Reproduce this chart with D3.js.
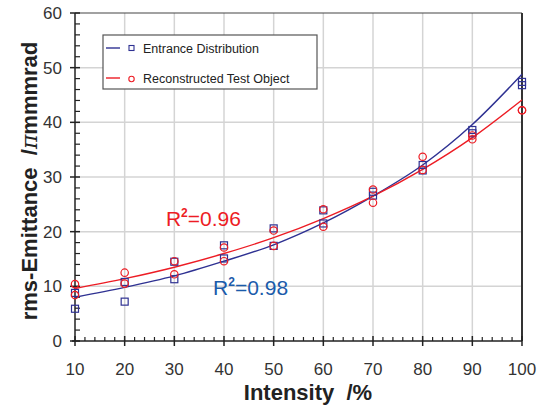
<!DOCTYPE html>
<html lang="en">
<head>
  <meta charset="UTF-8">
  <title>rms-Emittance vs Intensity</title>
  <script src="https://d3js.org/d3.v7.min.js"></script>
  <style>
    body { margin: 0; background: #fff; }
    svg { display: block; font-family: "Liberation Sans", Arial, sans-serif; }
    .tick-label { font-size: 17px; fill: #333; }
    .axis-title { font-size: 22px; font-weight: bold; fill: #222; white-space: pre; }
    .legend-text { font-size: 12.5px; fill: #222; }
  </style>
</head>
<body>
<svg width="538" height="407"></svg>
<script>
  // values
  const intensity = [10, 20, 30, 40, 50, 60, 70, 80, 90, 100];
  const entranceHigh = [8.8, 10.8, 14.5, 17.5, 20.6, 23.9, 27.3, 32.2, 38.6, 47.4];
  const entranceLow  = [5.9, 7.2, 11.3, 15.1, 17.4, 21.5, 26.6, 31.2, 38.0, 46.8];
  const reconHigh    = [10.4, 12.5, 14.6, 17.1, 20.2, 24.1, 27.7, 33.7, 37.6, 42.2];
  const reconLow     = [8.4, 10.5, 12.2, 14.6, 17.4, 20.9, 25.3, 31.3, 36.9, 42.2];
  // trend lines
  const entranceFit  = [8.0, 9.8, 11.9, 14.6, 17.6, 21.6, 26.5, 32.2, 39.6, 48.8];
  const reconFit     = [9.6, 11.4, 13.5, 16.0, 18.9, 22.4, 26.5, 31.4, 37.2, 44.1];
  const yTicks = [0, 10, 20, 30, 40, 50, 60];
  const xTicks = intensity;

  const blue = "#2e3192", red = "#ed1c24", blueText = "#1b5bab";

  const svg = d3.select("svg"),
        margin = {top: 13, right: 16, bottom: 66, left: 75},
        width = 538 - margin.left - margin.right,
        height = 407 - margin.top - margin.bottom;

  const chart = svg.append("g")
      .attr("transform", `translate(${margin.left},${margin.top})`);

  const x = d3.scaleLinear().domain([10, 100]).range([0, width]);
  const y = d3.scaleLinear().domain([0, 60]).range([height, 0]);

  // Grid
  chart.append("g").selectAll("line").data(xTicks.slice(1, -1)).join("line")
      .attr("x1", d => x(d)).attr("x2", d => x(d))
      .attr("y1", 0).attr("y2", height)
      .attr("stroke", "#d4d4d4").attr("stroke-width", 1.5);
  chart.append("g").selectAll("line").data(yTicks.slice(1, -1)).join("line")
      .attr("x1", 0).attr("x2", width)
      .attr("y1", d => y(d)).attr("y2", d => y(d))
      .attr("stroke", "#d4d4d4").attr("stroke-width", 1.5);

  // Frame top / right
  chart.append("line").attr("x1", 0).attr("x2", width).attr("y1", 0).attr("y2", 0)
      .attr("stroke", "#444").attr("stroke-width", 1.2);
  chart.append("line").attr("x1", width).attr("x2", width).attr("y1", 0).attr("y2", height)
      .attr("stroke", "#333").attr("stroke-width", 2);

  // Y-axis
  const yMinor = d3.range(0, 61, 2).filter(d => d % 10 !== 0);
  chart.append("line").attr("x1", 0).attr("x2", 0).attr("y1", 0).attr("y2", height)
      .attr("stroke", "#222").attr("stroke-width", 1.5);
  chart.append("g").selectAll("line").data(yMinor).join("line")
      .attr("x1", 0).attr("x2", 5)
      .attr("y1", d => y(d)).attr("y2", d => y(d))
      .attr("stroke", "#222").attr("stroke-width", 1.2);
  chart.append("g").selectAll("line").data(yTicks).join("line")
      .attr("x1", -5).attr("x2", 5)
      .attr("y1", d => y(d)).attr("y2", d => y(d))
      .attr("stroke", "#222").attr("stroke-width", 1.5);
  chart.append("g").selectAll("text").data(yTicks).join("text")
      .attr("class", "tick-label")
      .attr("x", -13).attr("y", d => y(d) + 6)
      .attr("text-anchor", "end")
      .text(d => d);

  // X-axis
  const xMinor = d3.range(10, 101, 2).filter(d => d % 10 !== 0);
  chart.append("line").attr("x1", -3).attr("x2", width).attr("y1", height).attr("y2", height)
      .attr("stroke", "#222").attr("stroke-width", 1.5);
  chart.append("g").selectAll("line").data(xMinor).join("line")
      .attr("x1", d => x(d)).attr("x2", d => x(d))
      .attr("y1", height).attr("y2", height - 4)
      .attr("stroke", "#222").attr("stroke-width", 1.2);
  chart.append("g").selectAll("line").data(xTicks).join("line")
      .attr("x1", d => x(d)).attr("x2", d => x(d))
      .attr("y1", height - 5).attr("y2", height + 5)
      .attr("stroke", "#222").attr("stroke-width", 1.5);
  chart.append("g").selectAll("text").data(xTicks).join("text")
      .attr("class", "tick-label")
      .attr("x", d => x(d)).attr("y", height + 34)
      .attr("text-anchor", "middle")
      .text(d => d);

  // Fit lines
  const line = d3.line().x((d, i) => x(intensity[i])).y(d => y(d)).curve(d3.curveMonotoneX);
  chart.append("path").attr("d", line(entranceFit))
      .attr("fill", "none").attr("stroke", blue).attr("stroke-width", 1.4);
  chart.append("path").attr("d", line(reconFit))
      .attr("fill", "none").attr("stroke", red).attr("stroke-width", 1.4);

  // Markers
  const squares = intensity.flatMap((v, i) => [[v, entranceHigh[i]], [v, entranceLow[i]]]);
  const circles = intensity.flatMap((v, i) => [[v, reconHigh[i]], [v, reconLow[i]]]);
  chart.append("g").selectAll("rect").data(squares).join("rect")
      .attr("x", d => x(d[0]) - 3.5).attr("y", d => y(d[1]) - 3.5)
      .attr("width", 7).attr("height", 7)
      .attr("fill", "none").attr("stroke", blue).attr("stroke-width", 1.2);
  chart.append("g").selectAll("circle").data(circles).join("circle")
      .attr("cx", d => x(d[0])).attr("cy", d => y(d[1])).attr("r", 3.7)
      .attr("fill", "none").attr("stroke", red).attr("stroke-width", 1.2);

  // R² labels
  const r1 = chart.append("text").attr("x", x(28.3)).attr("y", y(21.1))
      .attr("fill", red).style("font-size", "21px");
  r1.append("tspan").text("R");
  r1.append("tspan").attr("dy", -9).style("font-size", "12px").style("font-weight", "bold").text("2");
  r1.append("tspan").attr("dy", 9).text("=0.96");
  const r2 = chart.append("text").attr("x", x(37.8)).attr("y", y(8.4))
      .attr("fill", blueText).style("font-size", "21px");
  r2.append("tspan").text("R");
  r2.append("tspan").attr("dy", -9).style("font-size", "12px").style("font-weight", "bold").text("2");
  r2.append("tspan").attr("dy", 9).text("=0.98");

  // Legend
  const legend = svg.append("g").attr("transform", "translate(103,35)");
  legend.append("rect").attr("width", 214).attr("height", 54)
      .attr("fill", "#fff").attr("stroke", "#555").attr("stroke-width", 1.2);
  const items = [
    {label: "Entrance Distribution", color: blue, shape: "square"},
    {label: "Reconstructed Test Object", color: red, shape: "circle"}
  ];
  items.forEach((it, i) => {
    const g = legend.append("g").attr("transform", `translate(0,${13 + i * 30})`);
    g.append("line").attr("x1", 3).attr("x2", 17).attr("y1", 0).attr("y2", 0)
        .attr("stroke", it.color).attr("stroke-width", 1.4);
    if (it.shape === "square") {
      g.append("rect").attr("x", 26).attr("y", -2.5).attr("width", 5).attr("height", 5)
          .attr("fill", "none").attr("stroke", it.color).attr("stroke-width", 1.1);
    } else {
      g.append("circle").attr("cx", 28.5).attr("cy", 1).attr("r", 2.7)
          .attr("fill", "none").attr("stroke", it.color).attr("stroke-width", 1.1);
    }
    g.append("text").attr("class", "legend-text").attr("x", 40).attr("y", 4.5).text(it.label);
  });

  // Axis titles
  svg.append("text").attr("class", "axis-title")
      .attr("x", 308).attr("y", 400)
      .attr("text-anchor", "middle")
      .text("Intensity  /%");

  const yt = svg.append("text").attr("class", "axis-title")
      .attr("transform", "translate(37,181) rotate(-90)")
      .attr("text-anchor", "middle");
  yt.append("tspan").text("rms-Emittance  /");
  yt.append("tspan").style("font-weight", "normal").style("font-family", "DejaVu Serif, serif").style("font-style", "italic").text("π");
  yt.append("tspan").text("mmmrad");
</script>
</body>
</html>
